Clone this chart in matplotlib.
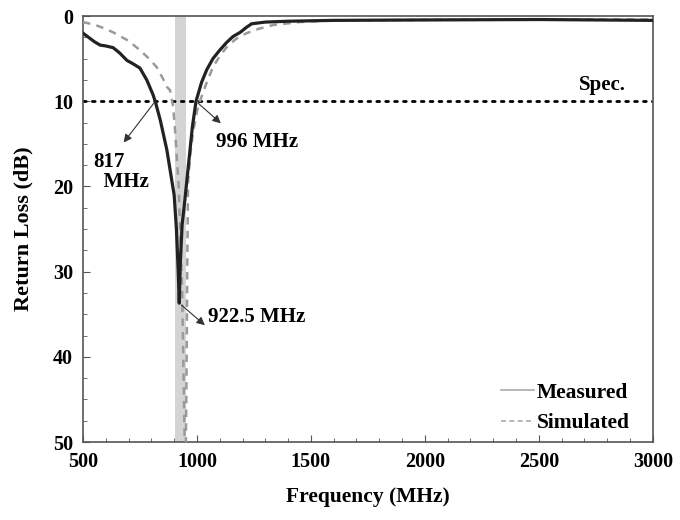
import matplotlib

matplotlib.use("Agg")
import matplotlib.pyplot as plt  # noqa: E402
from matplotlib.lines import Line2D  # noqa: E402
from matplotlib.ticker import MultipleLocator  # noqa: E402

plt.rcParams["font.family"] = ["Liberation Serif", "DejaVu Serif"]
plt.rcParams["font.weight"] = "bold"

# 实测回波损耗
meas_freq = [500, 520, 550, 575, 600, 632, 660, 693, 720, 750, 780, 807, 817, 840, 868,
             885, 900, 910, 918, 922.5, 927, 935, 947, 962, 980, 996, 1020, 1043, 1070,
             1100, 1130, 1158, 1190, 1218, 1240, 1300, 1400, 1600, 2000, 2500, 3000]
meas_rl = [2.0, 2.4, 3.0, 3.4, 3.5, 3.7, 4.3, 5.2, 5.6, 6.1, 7.5, 9.2, 10.0, 12.3, 15.7,
           18.5, 21.0, 25.0, 30.0, 33.7, 29.0, 24.5, 21.6, 17.7, 13.0, 10.0, 7.8, 6.3, 5.0,
           4.0, 3.1, 2.4, 1.9, 1.3, 0.9, 0.7, 0.6, 0.5, 0.45, 0.4, 0.5]

# 仿真回波损耗
sim_freq = [500, 550, 600, 632, 700, 750, 790, 824, 850, 868, 882, 895, 903, 920, 935,
            945, 950, 955, 958, 961, 970, 982, 1000, 1013, 1040, 1070, 1100, 1132, 1170,
            1218, 1270, 1333, 1450, 1600, 2000, 2500, 3000]
sim_rl = [0.7, 1.0, 1.5, 1.9, 2.9, 4.0, 5.0, 6.0, 7.3, 8.3, 8.7, 10.5, 13.0, 20.0, 32.0,
          48.0, 55.0, 40.0, 28.0, 19.5, 16.5, 13.8, 11.2, 10.0, 8.0, 6.0, 4.7, 3.6, 2.7,
          2.0, 1.5, 1.05, 0.7, 0.5, 0.45, 0.4, 0.4]

band = (905, 950)   # 工作频段
spec_db = 10
x_ticks = [500, 1000, 1500, 2000, 2500, 3000]
y_ticks = [0, 10, 20, 30, 40, 50]

fig = plt.figure(figsize=(6.8, 5.2), dpi=100)
ax = fig.add_axes([0.122, 0.150, 0.838, 0.819])

ax.axvspan(band[0], band[1], color="#d4d4d4", lw=0, zorder=1)
ax.axhline(spec_db, color="black", lw=2, linestyle=(0, (1, 2.2)), dash_capstyle="round", zorder=2)
ax.plot(sim_freq, sim_rl, color="#9a9a9a", lw=1.8, linestyle=(0, (3, 2.5)), zorder=3)
ax.plot(meas_freq, meas_rl, color="#222222", lw=2.3, zorder=4)

ax.set_xlim(500, 3000)
ax.set_ylim(50, 0)
ax.set_xticks(x_ticks)
ax.set_yticks(y_ticks)
ax.xaxis.set_minor_locator(MultipleLocator(100))
ax.yaxis.set_minor_locator(MultipleLocator(2.5))
ax.tick_params(which="both", direction="in", color="#555555")
ax.tick_params(which="major", length=5, labelsize=14.5, pad=7)
ax.tick_params(which="minor", length=3)
for s in ax.spines.values():
    s.set_color("#555555")
    s.set_linewidth(1.2)

ax.set_xlabel("Frequency (MHz)", fontsize=15.5, fontweight="bold", labelpad=11)
ax.set_ylabel("Return Loss (dB)", fontsize=16, fontweight="bold", labelpad=14)

arrow = dict(arrowstyle="-|>", color="#333333", lw=0.8, mutation_scale=12)
ax.annotate("", xy=(671, 15.1), xytext=(817, 10), arrowprops=arrow)
ax.text(545, 18.3, "817\n  MHz", fontsize=15, fontweight="bold", va="center", linespacing=1.0)
ax.annotate("", xy=(1114, 12.8), xytext=(996, 10), arrowprops=arrow)
ax.text(1085, 14.8, "996 MHz", fontsize=15, fontweight="bold", va="center")
ax.annotate("", xy=(1044, 36.5), xytext=(922.5, 33.7), arrowprops=arrow)
ax.text(1050, 35.3, "922.5 MHz", fontsize=15, fontweight="bold", va="center")
ax.text(2780, 8.1, "Spec.", fontsize=15, fontweight="bold", ha="center", va="center")

handles = [Line2D([], [], color="#aaaaaa", lw=1.2),
           Line2D([], [], color="#aaaaaa", lw=1.2, linestyle=(0, (3, 2)))]
ax.legend(handles, ["Measured", "Simulated"], loc="lower right", frameon=False,
          bbox_to_anchor=(0.975, 0.0), prop={"size": 15.5, "weight": "bold"},
          handlelength=1.5, handletextpad=0.15, borderaxespad=0.0, labelspacing=0.5)

fig.savefig("out.png", dpi=100)
